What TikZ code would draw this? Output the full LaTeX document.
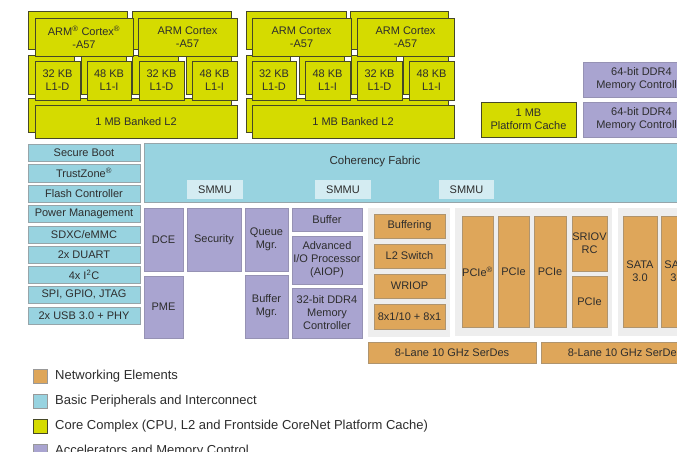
\documentclass[tikz,border=0pt]{standalone}
\usepackage{fontspec}
\setmainfont{Liberation Sans}
\definecolor{coreY}{RGB}{213,219,0}
\definecolor{coreBd}{RGB}{70,72,40}
\definecolor{blueF}{RGB}{152,211,224}
\definecolor{blueBd}{RGB}{150,165,170}
\definecolor{purpF}{RGB}{169,164,208}
\definecolor{purpBd}{RGB}{150,146,180}
\definecolor{orF}{RGB}{222,166,90}
\definecolor{orBd}{RGB}{175,148,110}
\definecolor{panelF}{RGB}{238,238,238}
\definecolor{smmuF}{RGB}{212,236,242}
\definecolor{txt}{RGB}{45,45,45}
\newcommand\blk[7]{\node[#1, minimum width={(#5-#3)*1pt}, minimum height={(#6-#4)*1pt}] (#2) at ({(#3+#5)/2},{(#4+#6)/2}) {#7};}
\tikzset{
  base/.style={inner sep=0pt, outer sep=0pt, align=center, text=txt, font=\fontsize{11}{13}\selectfont, line width=0.8pt},
  core/.style={base, fill=coreY, draw=coreBd},
  periph/.style={base, fill=blueF, draw=blueBd},
  accel/.style={base, fill=purpF, draw=purpBd},
  netw/.style={base, fill=orF, draw=orBd},
  panel/.style={base, fill=panelF, draw=none},
  smmu/.style={base, fill=smmuF, draw=none},
  legsq/.style={base, draw=gray!80, minimum width=14pt, minimum height=14pt},
  legtx/.style={inner sep=0pt, anchor=west, text=txt, font=\fontsize{13}{15}\selectfont},
}
\newcommand\rg{\textsuperscript{\textregistered}}
\begin{document}
\begin{tikzpicture}[x=1pt,y=-1pt]
\clip (0,0) rectangle (677,452);
\fill[white] (0,0) rectangle (677,452);
% ---------- core cluster back boxes
\blk{core}{b1}{28}{11}{127}{49}{}
\blk{core}{b2}{132}{11}{231}{49}{}
\blk{core}{b3}{28}{55}{74}{94}{}
\blk{core}{b4}{81}{55}{126}{94}{}
\blk{core}{b5}{132}{55}{178}{94}{}
\blk{core}{b6}{186}{55}{231}{94}{}
\blk{core}{b7}{28}{98}{231}{132}{}
\blk{core}{b8}{246}{11}{346}{49}{}
\blk{core}{b9}{350}{11}{448}{49}{}
\blk{core}{b10}{246}{55}{290}{94}{}
\blk{core}{b11}{299}{55}{344}{94}{}
\blk{core}{b12}{351}{55}{396}{94}{}
\blk{core}{b13}{403}{55}{448}{94}{}
\blk{core}{b14}{246}{98}{448}{132}{}
% ---------- core cluster front boxes
\blk{core}{cpu1}{35}{18}{133}{56}{ARM\rg{} Cortex\rg\\-A57}
\blk{core}{cpu2}{138}{18}{237}{56}{ARM Cortex\\-A57}
\blk{core}{l1d1}{35}{61}{80}{100}{32 KB\\L1-D}
\blk{core}{l1i1}{87}{61}{131}{100}{48 KB\\L1-I}
\blk{core}{l1d2}{139}{61}{184}{100}{32 KB\\L1-D}
\blk{core}{l1i2}{192}{61}{237}{100}{48 KB\\L1-I}
\blk{core}{l2a}{35}{105}{237}{138}{1 MB Banked L2}
\blk{core}{cpu3}{252}{18}{351}{56}{ARM Cortex\\-A57}
\blk{core}{cpu4}{357}{18}{454}{56}{ARM Cortex\\-A57}
\blk{core}{l1d3}{252}{61}{296}{100}{32 KB\\L1-D}
\blk{core}{l1i3}{305}{61}{350}{100}{48 KB\\L1-I}
\blk{core}{l1d4}{357}{61}{402}{100}{32 KB\\L1-D}
\blk{core}{l1i4}{409}{61}{454}{100}{48 KB\\L1-I}
\blk{core}{l2b}{252}{105}{454}{138}{1 MB Banked L2}
% ---------- platform cache and DDR
\blk{core}{pcache}{481}{102}{576}{137}{1 MB\\Platform Cache}
\blk{accel}{ddr1}{583}{62}{700}{97}{64-bit DDR4\\Memory Controller}
\blk{accel}{ddr2}{583}{102}{700}{137}{64-bit DDR4\\Memory Controller}
% ---------- coherency fabric
\blk{periph}{fabric}{144}{143}{720}{202}{}
\node[base, font=\fontsize{11.5}{13}\selectfont] (fabtitle) at (375,162) {Coherency Fabric};
\blk{smmu}{smmu1}{187}{180}{243}{199}{SMMU}
\blk{smmu}{smmu2}{315}{180}{371}{199}{SMMU}
\blk{smmu}{smmu3}{439}{180}{494}{199}{SMMU}
% ---------- peripherals
\blk{periph}{p1}{28}{144}{140}{161}{Secure Boot}
\blk{periph}{p2}{28}{164}{140}{182}{TrustZone\rg}
\blk{periph}{p3}{28}{185}{140}{202}{Flash Controller}
\blk{periph}{p4}{28}{205}{140}{222}{Power Management}
\blk{periph}{p5}{28}{226}{140}{243}{SDXC/eMMC}
\blk{periph}{p6}{28}{246}{140}{263}{2x DUART}
\blk{periph}{p7}{28}{266}{140}{283}{4x I\textsuperscript{2}C}
\blk{periph}{p8}{28}{286}{140}{303}{SPI, GPIO, JTAG}
\blk{periph}{p9}{28}{307}{140}{324}{2x USB 3.0 + PHY}
% ---------- accelerators
\blk{accel}{dce}{144}{208}{183}{271}{DCE}
\blk{accel}{sec}{187}{208}{241}{271}{Security}
\blk{accel}{pme}{144}{276}{183}{338}{PME}
\blk{accel}{qman}{245}{208}{288}{271}{Queue\\Mgr.}
\blk{accel}{bman}{245}{275}{288}{338}{Buffer\\Mgr.}
\blk{accel}{buf}{292}{208}{362}{231}{Buffer}
\blk{accel}{aiop}{292}{236}{362}{284}{Advanced\\I/O Processor\\(AIOP)}
\blk{accel}{ddr3}{292}{288}{362}{338}{32-bit DDR4\\Memory\\Controller}
% ---------- networking panel
\blk{panel}{npanel}{368}{208}{450}{337}{}
\blk{netw}{bufg}{374}{214}{445}{238}{Buffering}
\blk{netw}{l2sw}{374}{244}{445}{268}{L2 Switch}
\blk{netw}{wriop}{374}{274}{445}{298}{WRIOP}
\blk{netw}{macs}{374}{304}{445}{329}{8x1/10 + 8x1}
% ---------- PCIe panel
\blk{panel}{ppanel}{455}{208}{612}{336}{}
\blk{netw}{pcie1}{462}{216}{493}{327}{PCIe\rg}
\blk{netw}{pcie2}{498}{216}{529}{327}{PCIe}
\blk{netw}{pcie3}{534}{216}{566}{327}{PCIe}
\blk{netw}{sriov}{572}{216}{607}{271}{SRIOV\\RC}
\blk{netw}{pcie4}{572}{276}{607}{327}{PCIe}
% ---------- SATA panel
\blk{panel}{spanel}{618}{208}{740}{336}{}
\blk{netw}{sata1}{623}{216}{657}{327}{SATA\\3.0}
\blk{netw}{sata2}{661}{216}{695}{327}{SATA\\3.0}
% ---------- SerDes
\blk{netw}{serdes1}{368}{342}{536}{363}{8-Lane 10 GHz SerDes}
\blk{netw}{serdes2}{541}{342}{709}{363}{8-Lane 10 GHz SerDes}
% ---------- legend
\node[legsq, fill=orF] (lg1) at (40,376) {};
\node[legtx] (lt1) at (55,376) {Networking Elements};
\node[legsq, fill=blueF] (lg2) at (40,401) {};
\node[legtx] (lt2) at (55,401) {Basic Peripherals and Interconnect};
\node[legsq, fill=coreY, draw=coreBd] (lg3) at (40,426) {};
\node[legtx] (lt3) at (55,426) {Core Complex (CPU, L2 and Frontside CoreNet Platform Cache)};
\node[legsq, fill=purpF] (lg4) at (40,451) {};
\node[legtx] (lt4) at (55,451) {Accelerators and Memory Control};
\end{tikzpicture}
\end{document}
